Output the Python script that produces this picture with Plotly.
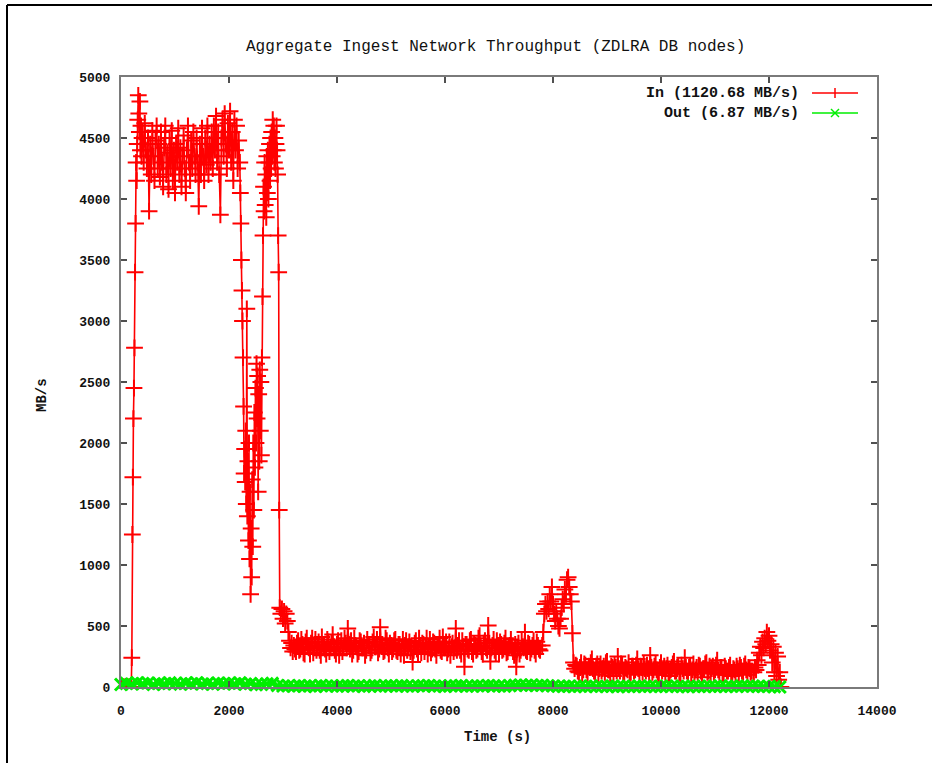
import numpy as np
import plotly.graph_objects as go

# ---------------- data ----------------
# "In" series, piecewise sampled: (start time, step, values)
in_start_t0, in_start_dt = 0, 30
in_start_vals = [0, 0, 0, 0, 0, 0, 0]

in_rise_t0, in_rise_dt = 190, 10
in_rise_vals = [0, 240, 1250, 1720, 2200, 2450, 2780, 3400, 3800, 4300, 4150,
                4450, 4650, 4850, 4700, 4550, 4800, 4400, 4600, 4350, 4500]

in_high_t0, in_high_dt = 400, 20
in_high_vals = [4550, 4300, 4620, 4400, 4250, 4500, 3900, 4450, 4200, 4560,
                4350, 4150, 4480, 4600, 4250, 4450, 4180, 4550, 4300, 4100,
                4420, 4600, 4200, 4380, 4080, 4500, 4250, 4560, 4150, 4400,
                4050, 4450, 4300, 4580, 4200, 4420, 4100, 4350, 4520, 4250,
                4050, 4400, 4600, 4300, 4150, 4480, 4250, 4550, 4350, 4200,
                4500, 4300, 3940, 4450, 4200, 4580, 4350, 4150, 4500, 4280,
                4600, 4200, 4450, 4300, 4550, 4250, 4600, 4400, 4680, 4300,
                4550, 4200, 3870, 4500, 4650, 4350, 4700, 4450, 4250, 4620,
                4400, 4720, 4300, 4550, 4150, 4650, 4400, 4600, 4250, 4480]

in_drop_t0, in_drop_dt = 2200, 10
in_drop_vals = [4300, 4050, 3800, 3500, 3250, 3000, 2700, 2300, 1750, 1950,
                1680, 2100, 1500, 3100, 1400, 1850, 1200, 2000, 1050, 1600,
                760, 1300, 900, 1700, 1150, 2000, 1450, 2250, 1800, 2450,
                2000, 2650, 2200, 2550, 1600, 2400, 1850, 2600, 2100, 2500,
                1900, 2700, 3200, 3700, 4100, 3900, 4300, 3950, 4200, 3850,
                4350, 4050, 4400, 4000, 4300, 4450, 4150, 4500, 4250, 4550,
                4350, 4650, 4400, 4600, 4300, 4500, 4250, 4450, 4600, 4400,
                4200, 3700, 3400, 1450, 650]

in_settle_t0, in_settle_dt = 2960, 20
in_settle_vals = [600, 640, 560, 620, 520, 600, 540, 450, 380, 320, 360, 290]

in_low_t0, in_low_dt = 3200, 20
in_low_vals = [340, 310, 290, 360, 380, 300, 310, 390, 350, 280,
               270, 370, 400, 330, 320, 270, 360, 400, 280, 340,
               390, 300, 330, 370, 300, 260, 410, 350, 340, 310,
               270, 390, 370, 290, 320, 360, 430, 330, 300, 270,
               350, 380, 260, 330, 380, 290, 330, 400, 360, 320,
               480, 350, 310, 380, 270, 300, 400, 340, 330, 270,
               290, 380, 370, 320, 320, 360, 260, 300, 390, 340,
               340, 280, 300, 370, 410, 330, 330, 390, 280, 310,
               490, 340, 350, 290, 300, 400, 380, 320, 270, 360,
               340, 290, 310, 380, 390, 300, 290, 350, 350, 270,
               320, 390, 260, 340, 380, 300, 330, 370, 290, 330,
               205, 300, 360, 380, 310, 270, 400, 340, 280, 360,
               350, 290, 330, 400, 270, 320, 390, 280, 310, 370,
               360, 310, 260, 350, 340, 400, 300, 290, 410, 330,
               320, 370, 280, 310, 370, 260, 330, 360, 290, 320,
               480, 300, 340, 380, 300, 270, 380, 330, 165, 350,
               350, 310, 300, 380, 390, 290, 270, 350, 340, 300,
               310, 400, 420, 330, 290, 270, 360, 380, 320, 300,
               505, 360, 210, 320, 340, 390, 300, 280, 380, 340,
               270, 370, 350, 300, 310, 360, 400, 280, 290, 330,
               340, 390, 320, 290, 260, 350, 165, 310, 360, 270,
               300, 380, 330, 320, 450, 300, 290, 360, 350, 280,
               310, 340, 380, 300, 270, 370, 340, 310, 300]

in_hump_t0, in_hump_dt = 7800, 20
in_hump_vals = [340, 450, 600, 680, 620, 700, 640, 760, 700, 820,
                680, 600, 540, 620, 560, 500, 480, 560, 650, 720,
                680, 800, 760, 880, 900, 820, 760, 700, 440, 200]

in_low2_t0, in_low2_dt = 8400, 20
in_low2_vals = [150, 180, 170, 130, 120, 160, 200, 110, 140, 190,
                180, 140, 110, 170, 160, 200, 230, 150, 130, 120,
                170, 190, 100, 150, 190, 130, 150, 170, 120, 200,
                210, 140, 140, 110, 170, 160, 90, 180, 160, 130,
                250, 150, 130, 190, 180, 120, 110, 160, 150, 140,
                200, 110, 120, 170, 170, 130, 140, 180, 230, 150,
                100, 170, 160, 120, 190, 150, 130, 180, 150, 110,
                260, 160, 120, 140, 170, 190, 140, 120, 100, 160,
                200, 130, 150, 170, 120, 150, 180, 110, 90, 140,
                160, 190, 210, 130, 130, 160, 170, 120, 110, 180,
                150, 130, 240, 160, 130, 110, 160, 170, 100, 140,
                190, 120, 140, 160, 120, 180, 170, 130, 80, 150,
                150, 190, 200, 120, 130, 170, 110, 150, 170, 120,
                140, 180, 220, 140, 120, 160, 160, 110, 100, 170,
                150, 130, 130, 160, 180, 120, 90, 150, 140, 110,
                170, 150, 110, 180, 160, 130, 120, 170, 190, 140,
                100, 160, 150, 120, 130]

in_end_t0, in_end_dt = 11720, 20
in_end_vals = [120, 160, 140, 220, 180, 280, 330, 260, 370, 320,
               400, 350, 450, 380, 420, 300, 350, 200, 330, 120,
               280, 90, 250, 60, 120, 0]

# "Out" series
out_t0, out_dt = 0, 100
out_vals = [20, 30, 25, 35, 28, 33, 22, 30, 26, 34,
            29, 24, 32, 27, 35, 25, 30, 23, 33, 28,
            31, 26, 34, 24, 29, 18, 22, 27, 30, 12,
            8, 10, 6, 11, 7, 9, 5, 12, 8, 10,
            6, 9, 11, 7, 10, 5, 8, 12, 6, 9,
            10, 7, 11, 8, 6, 10, 9, 12, 7, 8,
            5, 10, 9, 11, 6, 8, 10, 7, 12, 9,
            8, 6, 11, 14, 16, 13, 15, 12, 14, 10,
            8, 6, 5, 7, 4, 6, 5, 8, 4, 6,
            5, 7, 3, 6, 5, 4, 7, 5, 6, 4,
            5, 7, 6, 4, 5, 3, 6, 5, 4, 6,
            5, 7, 4, 6, 5, 8, 6, 7, 5, 4,
            6, 3, 0]

legend_in = "In (1120.68 MB/s)"
legend_out = "Out (6.87 MB/s)"
title_text = "Aggregate Ingest Network Throughput (ZDLRA DB nodes)"
x_title = "Time (s)"
y_title = "MB/s"

# ---------------- assemble series ----------------
segments = [
    (in_start_t0, in_start_dt, in_start_vals),
    (in_rise_t0, in_rise_dt, in_rise_vals),
    (in_high_t0, in_high_dt, in_high_vals),
    (in_drop_t0, in_drop_dt, in_drop_vals),
    (in_settle_t0, in_settle_dt, in_settle_vals),
    (in_low_t0, in_low_dt, in_low_vals),
    (in_hump_t0, in_hump_dt, in_hump_vals),
    (in_low2_t0, in_low2_dt, in_low2_vals),
    (in_end_t0, in_end_dt, in_end_vals),
]
t_in, v_in = [], []
for t0, dt, vals in segments:
    t_in.extend((t0 + dt * np.arange(len(vals))).tolist())
    v_in.extend(vals)
t_out = (out_t0 + out_dt * np.arange(len(out_vals))).tolist()

RED = "#ff0000"
GREEN = "#00ee00"
FONT = "Liberation Mono"

fig = go.Figure()
fig.add_trace(go.Scatter(
    x=t_in, y=v_in, mode="lines+markers", name=legend_in,
    line=dict(color=RED, width=1.6),
    marker=dict(symbol="cross-thin", size=12, line=dict(color=RED, width=2), color=RED),
    showlegend=False, cliponaxis=True))
fig.add_trace(go.Scatter(
    x=t_out, y=out_vals, mode="lines+markers", name=legend_out,
    line=dict(color=GREEN, width=3),
    marker=dict(symbol="x-thin", size=12, line=dict(color=GREEN, width=3), color=GREEN),
    showlegend=False, cliponaxis=False))

# pixel -> paper helpers (plot area: x 121..877, y 77..687)
L, R, T, B = 121, 877, 77, 687
def px(x):
    return (x - L) / (R - L)
def py(y):
    return (B - y) / (B - T)

axis_common = dict(
    showline=True, linecolor="#7a7a7a", linewidth=2, mirror="allticks",
    ticks="inside", ticklen=6, tickwidth=1.5, tickcolor="#505050",
    showgrid=False, zeroline=False, tickformat="d",
    tickfont=dict(family=FONT, size=13, color="#111111", weight="bold"),
)
fig.update_xaxes(range=[0, 14000], dtick=2000, tick0=0, ticklabelstandoff=10, **axis_common)
fig.update_yaxes(range=[0, 5000], dtick=500, tick0=0, ticklabelstandoff=6, **axis_common)

annotations = [
    dict(text=title_text, x=px(495), y=py(47), font=dict(family=FONT, size=16, color="#111111")),
    dict(text=x_title, x=px(497), y=py(737), font=dict(family=FONT, size=14, color="#111111", weight="bold")),
    dict(text=y_title, x=px(42), y=py(395), textangle=-90,
         font=dict(family=FONT, size=14, color="#111111", weight="bold")),
    dict(text=legend_in, x=px(801), y=py(93), xanchor="right",
         font=dict(family=FONT, size=15, color="#111111", weight="bold")),
    dict(text=legend_out, x=px(801), y=py(113), xanchor="right",
         font=dict(family=FONT, size=15, color="#111111", weight="bold")),
]
for a in annotations:
    a.update(xref="paper", yref="paper", showarrow=False)
    a.setdefault("xanchor", "center")
    a.setdefault("yanchor", "middle")

shapes = [
    # legend samples
    dict(type="line", x0=px(812), x1=px(858), y0=py(93), y1=py(93), line=dict(color=RED, width=1.5)),
    dict(type="line", x0=px(835), x1=px(835), y0=py(88), y1=py(98), line=dict(color=RED, width=1.5)),
    dict(type="line", x0=px(812), x1=px(858), y0=py(113), y1=py(113), line=dict(color=GREEN, width=1.5)),
    dict(type="line", x0=px(831), x1=px(839), y0=py(109), y1=py(117), line=dict(color=GREEN, width=1.5)),
    dict(type="line", x0=px(831), x1=px(839), y0=py(117), y1=py(109), line=dict(color=GREEN, width=1.5)),
    # outer image frame (left and top)
    dict(type="line", x0=px(7), x1=px(7), y0=py(5), y1=py(763), line=dict(color="#000000", width=2)),
    dict(type="line", x0=px(7), x1=px(932), y0=py(5), y1=py(5), line=dict(color="#000000", width=2)),
]
for s in shapes:
    s.update(xref="paper", yref="paper")

fig.update_layout(
    width=932, height=763,
    margin=dict(l=L, r=932 - R, t=T, b=763 - B),
    paper_bgcolor="white", plot_bgcolor="white",
    showlegend=False,
    annotations=annotations, shapes=shapes,
)

fig.write_html("out.html")
